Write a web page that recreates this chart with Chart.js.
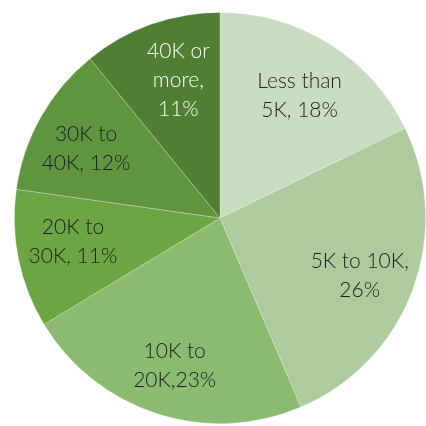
<!DOCTYPE html>
<html>
<head>
<meta charset="utf-8">
<script src="https://cdn.jsdelivr.net/npm/chart.js@4/dist/chart.umd.min.js"></script>
<style>
  html, body { margin: 0; padding: 0; background: #ffffff; overflow: hidden; }
  #wrap { width: 426px; height: 426px; }
</style>
</head>
<body>
<div id="wrap"><canvas id="pie" width="426" height="426"></canvas></div>
<script>
// Household income bands and their shares (%)
const categories = ['Less than 5K', '5K to 10K', '10K to 20K', '20K to 30K', '30K to 40K', '40K or more'];
const shares = [18, 26, 23, 11, 12, 11];
// Text shown inside each slice, line by line
const sliceLabels = [
  ['Less than', '5K, 18%'],
  ['5K to 10K,', '26%'],
  ['10K to', '20K,23%'],
  ['20K to', '30K, 11%'],
  ['30K to', '40K, 12%'],
  ['40K or', 'more,', '11%']
];
const sliceColors = ['#c9dbc0', '#adcb9d', '#8bba71', '#6ca544', '#5e953e', '#507f34'];
const labelColors = ['#1e1e1e', '#1e1e1e', '#1e1e1e', '#1e1e1e', '#1e1e1e', '#ffffff'];

// Small per-label nudges (px) so each text block sits well inside its slice
const labelNudge = [[1, 3], [1, 6], [0, 7], [-2, -6], [-5, 3], [8, 2]];

// Draws the multi-line labels inside the slices
const sliceLabelPlugin = {
  id: 'sliceLabels',
  afterDatasetsDraw(chart) {
    const ctx = chart.ctx;
    const meta = chart.getDatasetMeta(0);
    ctx.save();
    ctx.font = '300 21px Lato, "Open Sans", sans-serif';
    ctx.textAlign = 'center';
    ctx.textBaseline = 'middle';
    const lineH = 29;
    meta.data.forEach((arc, i) => {
      const p = arc.getProps(['x', 'y', 'startAngle', 'endAngle', 'outerRadius'], true);
      const mid = (p.startAngle + p.endAngle) / 2;
      const r = p.outerRadius * 0.72;
      const cx = p.x + Math.cos(mid) * r + labelNudge[i][0];
      const cy = p.y + Math.sin(mid) * r + labelNudge[i][1];
      const lines = sliceLabels[i];
      ctx.fillStyle = labelColors[i];
      lines.forEach((t, k) => {
        ctx.fillText(t, cx, cy + (k - (lines.length - 1) / 2) * lineH);
      });
    });
    ctx.restore();
  }
};

new Chart(document.getElementById('pie'), {
  type: 'pie',
  data: {
    labels: categories,
    datasets: [{
      data: shares,
      backgroundColor: sliceColors,
      borderColor: 'rgba(255,255,255,0.35)',
      borderWidth: 0.75
    }]
  },
  options: {
    responsive: false,
    animation: false,
    rotation: 0,
    layout: { padding: { left: 14, right: 0, top: 12, bottom: 2 } },
    plugins: {
      legend: { display: false },
      tooltip: { enabled: false }
    }
  },
  plugins: [sliceLabelPlugin]
});
</script>
</body>
</html>
